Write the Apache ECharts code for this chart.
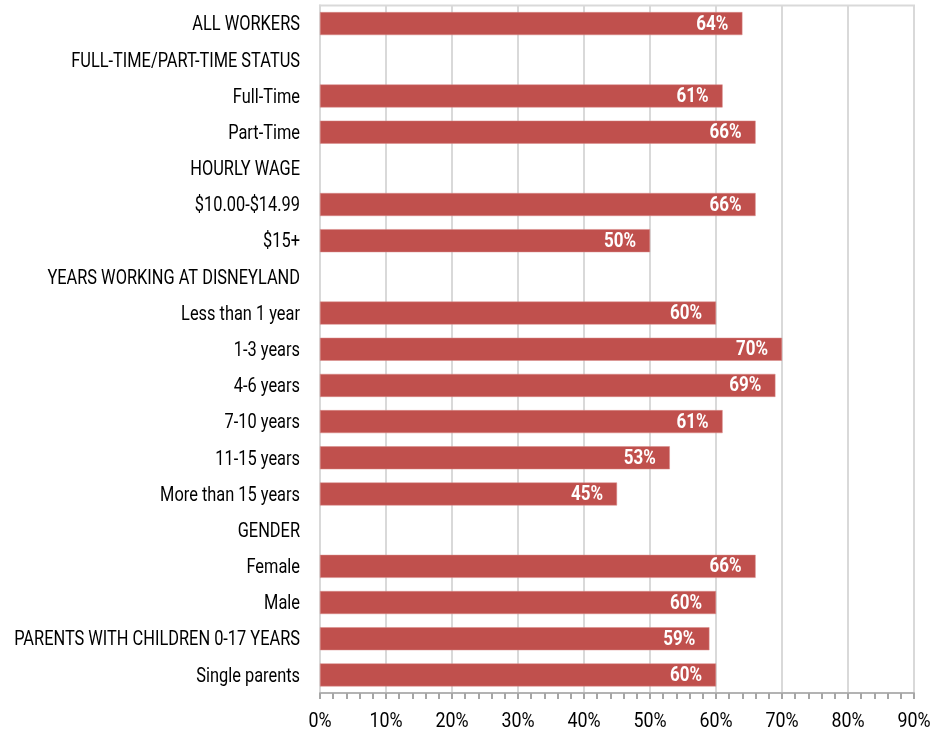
<!DOCTYPE html>
<html>
<head>
<meta charset="utf-8">
<script src="https://cdn.jsdelivr.net/npm/echarts@6/dist/echarts.min.js"></script>
<style>
  html, body { margin: 0; padding: 0; background: #fff; }
  #chart { width: 940px; height: 736px; }
</style>
</head>
<body>
<div id="chart"></div>
<script>
// Row labels, top to bottom (section headings have no bar)
const categories = [
  'ALL WORKERS',
  'FULL-TIME/PART-TIME STATUS',
  'Full-Time',
  'Part-Time',
  'HOURLY WAGE',
  '$10.00-$14.99',
  '$15+',
  'YEARS WORKING AT DISNEYLAND',
  'Less than 1 year',
  '1-3 years',
  '4-6 years',
  '7-10 years',
  '11-15 years',
  'More than 15 years',
  'GENDER',
  'Female',
  'Male',
  'PARENTS WITH CHILDREN 0-17 YEARS',
  'Single parents'
];

// Share of workers, in percent (null for heading rows)
const shares = [64, null, 61, 66, null, 66, 50, null, 60, 70, 69, 61, 53, 45, null, 66, 60, 59, 60];

// Horizontal axis ticks, in percent
const axisMin = 0;
const axisMax = 90;
const axisStep = 10;
const tickValues = [0, 10, 20, 30, 40, 50, 60, 70, 80, 90];

// Narrow gothic look: a regular face squeezed horizontally
const FONT = 'Roboto, "DejaVu Sans", sans-serif';
const WORD_SQUEEZE = 0.78;
const NUM_SQUEEZE = 0.85;

const chart = echarts.init(document.getElementById('chart'), null, { renderer: 'canvas' });

chart.setOption({
  animation: false,
  backgroundColor: '#ffffff',
  grid: {
    left: 320, right: 26, top: 5.5, bottom: 43,
    containLabel: false, outerBoundsMode: 'none',
    show: true, borderColor: '#d9d9d9', borderWidth: 2, backgroundColor: 'transparent'
  },
  xAxis: {
    type: 'value',
    min: axisMin,
    max: axisMax,
    interval: axisStep,
    axisLine: { show: true, lineStyle: { color: '#b3b3b3', width: 2 } },
    axisTick: { show: true, length: 6, lineStyle: { color: '#a6a6a6', width: 2 } },
    minorTick: { show: true, splitNumber: 5, length: 6, lineStyle: { color: '#a6a6a6', width: 2 } },
    axisLabel: { show: false },
    splitLine: { show: true, lineStyle: { color: '#d9d9d9', width: 2 } }
  },
  yAxis: {
    type: 'category',
    data: categories,
    inverse: true,
    axisLine: { show: true, lineStyle: { color: '#d9d9d9', width: 2 } },
    axisTick: { show: false },
    axisLabel: { show: false },
    splitLine: { show: false }
  },
  series: [{
    type: 'bar',
    data: shares,
    barWidth: 23,
    itemStyle: { color: '#c0504d', borderColor: '#d98a88', borderWidth: 0.5 },
    label: { show: false }
  }]
});

// Text drawn as squeezed text elements, placed through the chart's own axes
const toPx = (x, y) => chart.convertToPixel({ xAxisIndex: 0, yAxisIndex: 0 }, [x, y]);
const plotRect = chart.getModel().getComponent('grid').coordinateSystem.getRect();
const texts = [];

categories.forEach((name, i) => {
  const p = toPx(axisMin, i);
  texts.push({
    type: 'text', x: p[0] - 20, y: p[1] + 1.5, scaleX: WORD_SQUEEZE, z: 10,
    style: { text: name, x: 0, y: 0, align: 'right', verticalAlign: 'middle',
             fontFamily: FONT, fontSize: 21, fill: '#000' }
  });
});

shares.forEach((v, i) => {
  if (v == null) return;
  const p = toPx(v, i);
  texts.push({
    type: 'text', x: p[0] - 14, y: p[1] + 1, scaleX: NUM_SQUEEZE, z: 20,
    style: { text: v + '%', x: 0, y: 0, align: 'right', verticalAlign: 'middle',
             fontFamily: FONT, fontWeight: 'bold', fontSize: 20, fill: '#fff' }
  });
});

tickValues.forEach(v => {
  const p = toPx(v, categories.length - 1);
  texts.push({
    type: 'text', x: p[0], y: plotRect.y + plotRect.height + 29, scaleX: NUM_SQUEEZE, z: 10,
    style: { text: v + '%', x: 0, y: 0, align: 'center', verticalAlign: 'middle',
             fontFamily: FONT, fontSize: 21, fill: '#000' }
  });
});

chart.setOption({ graphic: { elements: texts } });
</script>
</body>
</html>
